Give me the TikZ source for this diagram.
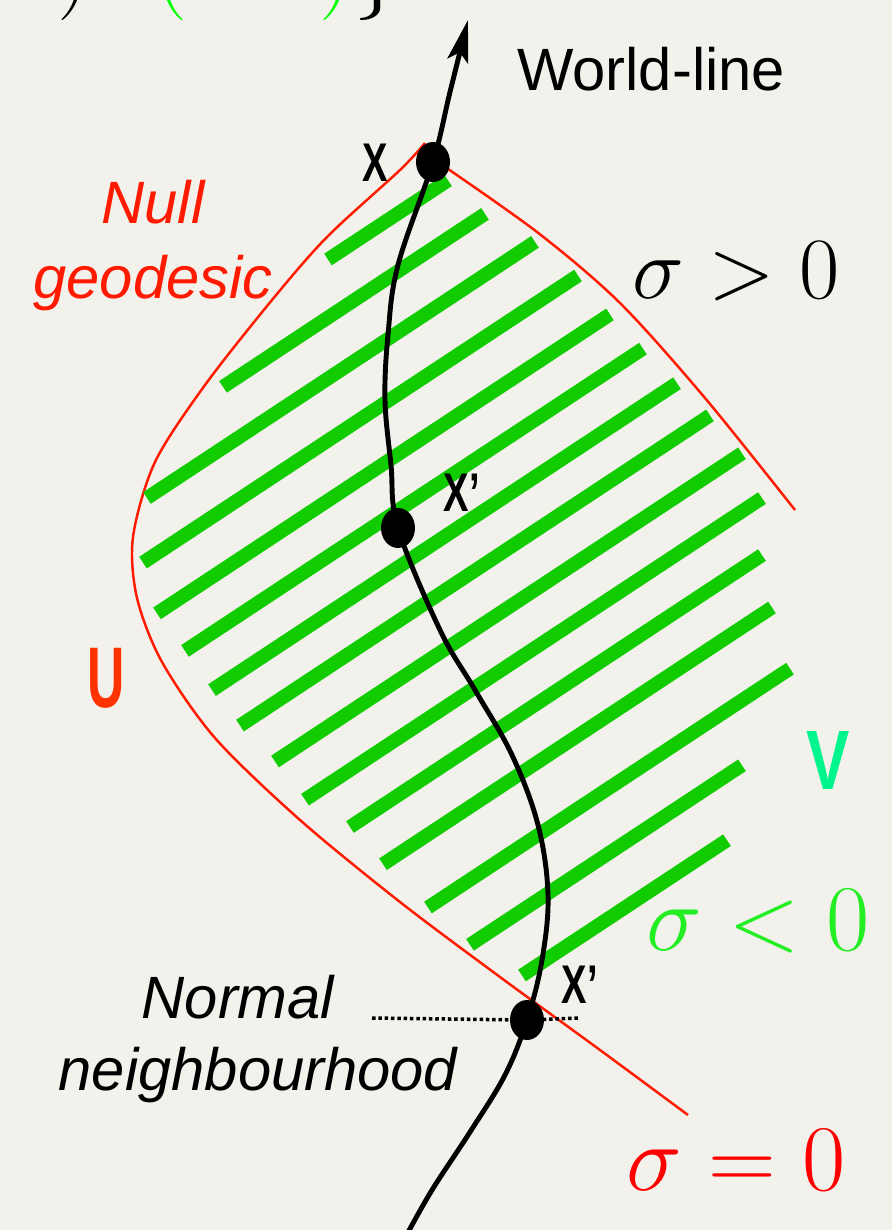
\documentclass[tikz,border=0pt]{standalone}
\usepackage{graphicx}
\usepackage{fontspec}
\setmainfont{Liberation Sans}
\usetikzlibrary{arrows.meta,shapes.geometric}
\definecolor{paper}{HTML}{F3F1EC}
\definecolor{nullred}{HTML}{FF1A00}
\definecolor{stripe}{HTML}{11CC00}
\definecolor{ured}{HTML}{FF3300}
\definecolor{vgreen}{HTML}{00F58C}
\definecolor{sgreen}{HTML}{22EE22}
\newcommand{\bigmath}[2]{\scalebox{#1}{\fontsize{24.88}{30}\selectfont$#2$}}

\begin{document}
\begin{tikzpicture}[x=0.02cm,y=-0.02cm,
    dot/.style={ellipse,fill=black,inner sep=0pt,minimum width=0.68cm,minimum height=0.8cm},
    ptlabel/.style={font=\fontsize{31}{32}\selectfont\bfseries,xscale=0.7},
    sans/.style={font=\fontsize{34}{40}\selectfont},
    slant/.style={font=\fontsize{34}{40}\selectfont\itshape}]
      % paper + frame
      \fill[paper] (0,0) rectangle (892,1230);
      \clip (0,0) rectangle (892,1230);
      \node[anchor=base west,inner sep=0pt] (eq) at (0,-3)
        {\bigmath{2.2}{\sigma)\,\textcolor{green}{\theta(-\sigma)}\}}};
      % null geodesics bounding U
      \draw[nullred,line width=1.4pt]
        plot[smooth,tension=0.5] coordinates {(425,143) (400,170) (327,237) (272,300)
          (205,385) (155,462) (133,537) (137,598) (162,662) (215,738)
          (300,820) (400,902) (500,977) (600,1050) (688,1115)};
      \draw[nullred,line width=1.4pt]
        plot[smooth,tension=0.5] coordinates {(435,160) (537,232) (620,303) (705,398) (795,510)};
      % green stripes (sigma < 0 region)
      \foreach \c/\xa/\xb in {476/328/448, 534/223/485, 595/147/535, 657/143/578,
          717/157/610, 773/185/643, 830/212/677, 884/240/710, 943/275/742,
          1001/305/762, 1058/350/762, 1117/383/772, 1190/428/790, 1255/470/742, 1320/522/727}
        \draw[stripe,line width=7.9pt] (\xa,{\c-0.66*\xa}) -- (\xb,{\c-0.66*\xb});
      % points on the world-line
      \node[dot] (X) at (433,162) {};
      \node[dot] (Xp) at (398,528) {};
      \node[dot] (Xq) at (527,1020) {};
      \draw[line width=2.8pt,-{Stealth[length=24pt,width=12pt,inset=5pt]}]
        plot[smooth,tension=0.6] coordinates {(405,1238) (432,1190) (470,1132) (505,1075) (Xq)
          (542,960) (548,895) (538,825) (512,755) (475,690) (440,630) (Xp) (391,465)
          (385,400) (388,335) (398,265) (X) (450,92) (468,20)};
      \node[ptlabel] (lX) at (375,163) {X};
      \node[ptlabel] (lXp) at (462,493) {X’};
      \node[ptlabel] (lXq) at (580,985) {X’};
      \draw[line width=2pt,dash pattern=on 2pt off 1.6pt] (372,1018) -- (Xq.center) -- (578,1018);
      % labels
      \node[sans,anchor=base west] (wl) at (511,91) {World-line};
      \node[slant,nullred,anchor=base] (ng1) at (153,223) {Null};
      \node[slant,nullred,anchor=base] (ng2) at (153,298) {geodesic};
      \node[slant,anchor=base] (nn1) at (238,1018) {Normal};
      \node[slant,anchor=base] (nn2) at (258,1090) {neighbourhood};
      \node[ured,font=\fontsize{49}{50}\selectfont\bfseries,xscale=0.6] (U) at (106,678) {U};
      \node[vgreen,font=\fontsize{48}{50}\selectfont\bfseries,xscale=0.77] (V) at (828,760) {V};
      \node[anchor=base,inner sep=0pt] (sp) at (736,298) {\bigmath{2}{\sigma>0}};
      \node[sgreen,anchor=base,inner sep=0pt] (sn) at (758,950) {\bigmath{2.15}{\sigma<0}};
      \node[red,anchor=base,inner sep=0pt] (sz) at (736,1190) {\bigmath{2.15}{\sigma=0}};
\end{tikzpicture}
\end{document}
